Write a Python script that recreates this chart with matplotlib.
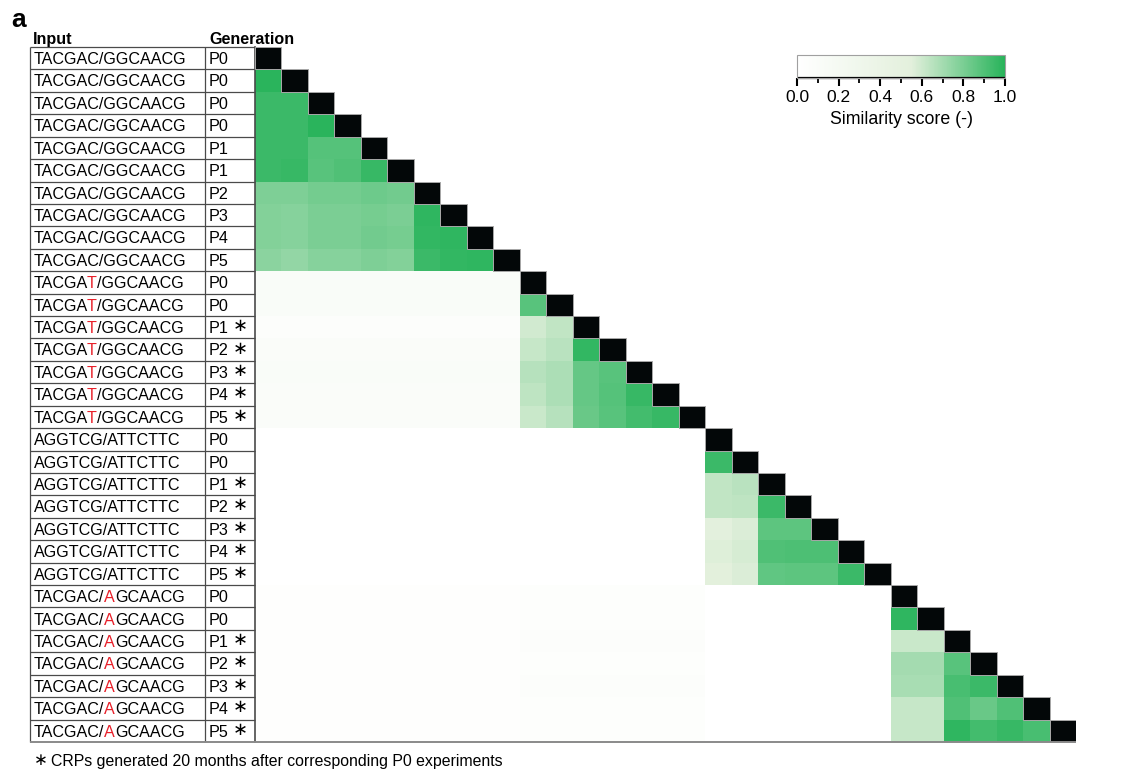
import numpy as np
import matplotlib
matplotlib.use("Agg")
import matplotlib.pyplot as plt
from matplotlib.colors import LinearSegmentedColormap
from matplotlib.patches import Rectangle
from matplotlib.font_manager import FontProperties
from matplotlib.transforms import offset_copy

plt.rcParams["font.family"] = ["Liberation Sans", "DejaVu Sans"]

# ---- row annotations -------------------------------------------------------
group_inputs = ["TACGAC/GGCAACG", "TACGAT/GGCAACG", "AGGTCG/ATTCTTC", "TACGAC/AGCAACG"]
group_red_index = [None, 5, None, 7]          # position of the mutated base
group_generations = [
    ["P0", "P0", "P0", "P0", "P1", "P1", "P2", "P3", "P4", "P5"],
    ["P0", "P0", "P1", "P2", "P3", "P4", "P5"],
    ["P0", "P0", "P1", "P2", "P3", "P4", "P5"],
    ["P0", "P0", "P1", "P2", "P3", "P4", "P5"],
]
group_late = [
    [False] * 10,
    [False, False, True, True, True, True, True],
    [False, False, True, True, True, True, True],
    [False, False, True, True, True, True, True],
]

# ---- similarity scores: lower triangle inside each input group ------------
block1 = [
    [],
    [0.99],
    [0.95, 0.95],
    [0.95, 0.95, 0.99],
    [0.95, 0.95, 0.89, 0.89],
    [0.95, 0.96, 0.88, 0.90, 0.96],
    [0.79, 0.79, 0.815, 0.815, 0.83, 0.82],
    [0.78, 0.77, 0.80, 0.80, 0.81, 0.80, 0.98],
    [0.78, 0.77, 0.80, 0.80, 0.82, 0.81, 0.97, 0.98],
    [0.76, 0.74, 0.77, 0.77, 0.79, 0.78, 0.95, 0.97, 0.98],
]
block2 = [
    [],
    [0.88],
    [0.59, 0.63],
    [0.62, 0.65, 0.97],
    [0.66, 0.68, 0.85, 0.88],
    [0.64, 0.68, 0.85, 0.89, 0.96],
    [0.61, 0.66, 0.84, 0.88, 0.93, 0.96],
]
block3 = [
    [],
    [0.95],
    [0.63, 0.65],
    [0.63, 0.64, 0.95],
    [0.54, 0.57, 0.87, 0.87],
    [0.56, 0.58, 0.90, 0.91, 0.91],
    [0.55, 0.57, 0.86, 0.87, 0.87, 0.95],
]
block4 = [
    [],
    [0.98],
    [0.61, 0.61],
    [0.70, 0.70, 0.88],
    [0.69, 0.69, 0.92, 0.95],
    [0.62, 0.62, 0.90, 0.84, 0.90],
    [0.62, 0.62, 0.98, 0.93, 0.96, 0.92],
]

# scores between different input groups (one value per row of the lower group)
cross_2_vs_1 = [0.11, 0.11, 0.06, 0.10, 0.11, 0.10, 0.10]
cross_3_vs_1 = [0.0] * 7
cross_3_vs_2 = [0.0] * 7
cross_4_vs_1 = [0.03, 0.03, 0.03, 0.03, 0.03, 0.03, 0.03]
cross_4_vs_2 = [0.05, 0.05, 0.06, 0.05, 0.06, 0.05, 0.05]
cross_4_vs_3 = [0.0] * 7

cbar_ticks = [0.0, 0.2, 0.4, 0.6, 0.8, 1.0]

# ---- assemble the matrix ----------------------------------------------------
blocks = [block1, block2, block3, block4]
sizes = [len(b) for b in blocks]
offsets = np.concatenate([[0], np.cumsum(sizes)])
n = int(offsets[-1])

sim = np.full((n, n), np.nan)
for b, tri in enumerate(blocks):
    o = offsets[b]
    for i, row in enumerate(tri):
        for j, v in enumerate(row):
            sim[o + i, o + j] = v
cross = {(1, 0): cross_2_vs_1, (2, 0): cross_3_vs_1, (2, 1): cross_3_vs_2,
         (3, 0): cross_4_vs_1, (3, 1): cross_4_vs_2, (3, 2): cross_4_vs_3}
for (rb, cb), vals in cross.items():
    for i, v in enumerate(vals):
        sim[offsets[rb] + i, offsets[cb]:offsets[cb + 1]] = v

# ---- figure ----------------------------------------------------------------
W, H = 1131, 771
fig = plt.figure(figsize=(W / 100, H / 100), dpi=100)
fig.patch.set_facecolor("white")
renderer = fig.canvas.get_renderer()


def fx(x):
    return x / W


def fy(y):
    return 1 - y / H


cmap = LinearSegmentedColormap.from_list(
    "sim", [(0.0, "#ffffff"), (0.55, "#e3f0dc"), (1.0, "#27b35a")])

ax = fig.add_axes([fx(255), fy(742), (1076 - 255) / W, (742 - 47) / H])
mesh = ax.pcolormesh(np.ma.masked_invalid(sim), cmap=cmap, vmin=0, vmax=1)
# self-comparisons on the diagonal drawn as black cells
for i in range(n):
    ax.add_patch(Rectangle((i, i), 1, 1, facecolor="#030708",
                           edgecolor="#a8a8a8", lw=0.7, zorder=3))
ax.set_xlim(0, n)
ax.set_ylim(n, 0)
ax.set_xticks([])
ax.set_yticks([])
for s in ["top", "right", "bottom", "left"]:
    ax.spines[s].set_visible(False)

# table of row labels to the left of the heatmap
px_per_col = (1076 - 255) / n
x_left, x_mid, x_right = (30 - 255) / px_per_col, (205 - 255) / px_per_col, 0.0
line_kw = dict(color="#4a4a4a", lw=0.9, clip_on=False, solid_capstyle="butt")
for r in range(n):
    ax.plot([x_left, x_right], [r, r], **line_kw)
ax.plot([x_left, x_left], [0, n], **line_kw)
ax.plot([x_mid, x_mid], [0, n], **line_kw)
ax.plot([x_right, x_right], [0, n], color="#4a4a4a", lw=1.2, clip_on=False)
ax.plot([x_left, n], [n, n], color="#8a8a8a", lw=1.4, clip_on=False,
        solid_capstyle="butt", zorder=4)

fs = 11.6
label_prop = FontProperties(family=["Liberation Sans"], size=fs)


def text_width(s):
    w, _, _ = renderer.get_text_width_height_descent(s, label_prop, ismath=False)
    return w


def char_offset(s, k):
    """Horizontal pen offset (pixels) of character k inside string s."""
    return text_width(s[:k + 1]) - text_width(s[k])


star = "\u2217"
row = 0
for g, name in enumerate(group_inputs):
    red = group_red_index[g]
    for gen, late in zip(group_generations[g], group_late[g]):
        yb = row + 0.76
        x_text = (34 - 255) / px_per_col
        kw = dict(fontproperties=label_prop, va="baseline", ha="left",
                  clip_on=False)
        if red is None:
            ax.text(x_text, yb, name, color="black", **kw)
        else:
            pieces = [(0, name[:red], "black"), (red, name[red], "#e8202a"),
                      (red + 1, name[red + 1:], "black")]
            for k, txt, col in pieces:
                dx = 0.0 if k == 0 else char_offset(name, k)
                tr = offset_copy(ax.transData, fig=fig, x=dx, y=0, units="dots")
                ax.text(x_text, yb, txt, color=col, transform=tr, **kw)
        ax.text((209 - 255) / px_per_col, yb, gen, **kw)
        if late:
            ax.text((240 - 255) / px_per_col, row + 0.45, star, fontsize=13,
                    va="center", ha="center", clip_on=False,
                    family=["DejaVu Sans"])
        row += 1

# headers and panel letter
fig.text(fx(33), fy(44), "Input", fontsize=fs, fontweight="bold", va="baseline")
fig.text(fx(209), fy(44), "Generation", fontsize=fs, fontweight="bold",
         va="baseline")
fig.text(fx(11), fy(27), "a", fontsize=19, fontweight="bold", va="baseline")

# footnote
fig.text(fx(41), fy(760), star, fontsize=12, va="center", ha="center",
         family=["DejaVu Sans"])
fig.text(fx(51), fy(766), "CRPs generated 20 months after corresponding P0 experiments",
         fontsize=11.4, va="baseline")

# colour bar
cax = fig.add_axes([fx(797), fy(78), (1005 - 797) / W, 23 / H])
cbar = fig.colorbar(mesh, cax=cax, orientation="horizontal", ticks=cbar_ticks,
                    format="%.1f")
cbar.set_ticks(np.arange(0, 1.01, 0.1), minor=True)
cbar.outline.set_edgecolor("#a0a0a0")
cbar.outline.set_linewidth(0.8)
cax.plot([0, 1], [0, 0], transform=cax.transAxes, color="black", lw=1.6,
         clip_on=False, solid_capstyle="butt")
cax.tick_params(which="major", direction="out", length=6, width=1.5,
                labelsize=12.5, pad=3, color="black")
cax.tick_params(which="minor", direction="out", length=3.5, width=1.3,
                color="black")
cax.set_xlabel("Similarity score (-)", fontsize=12.8, labelpad=4)

fig.savefig("out.png", dpi=100, facecolor="white")
